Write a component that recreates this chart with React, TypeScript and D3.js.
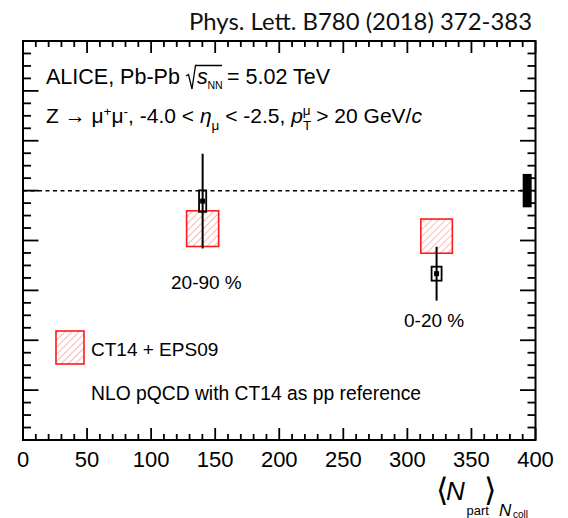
import React from "react";
import * as d3 from "d3";

// ---- data ----
const centralityLabels = ["20-90 %", "0-20 %"];
const npartValues = [140.2, 322.8];
const raaValues = [0.958, 0.667];
const statErrors = [0.19, 0.108];
const systErrors = [0.043, 0.028];
const systHalfWidths = [2.8, 3.9];
const modelLow = [0.776, 0.749];
const modelHigh = [0.919, 0.886];
const modelHalfWidth = [12.5, 12.3];
const globalUnc = { x0: 390, x1: 397, center: 1.0, err: 0.067 };
const xTickLabels = [0, 50, 100, 150, 200, 250, 300, 350, 400];
const xDomain = [0, 400];
const yDomain = [0, 1.6];

const W = 568;
const H = 518;
const FONT = "'Liberation Sans', Arial, Helvetica, sans-serif";

export default function App() {
  const x = d3.scaleLinear().domain(xDomain).range([23, 535.5]);
  const y = d3.scaleLinear().domain(yDomain).range([440, 41]);
  const [x0, x1] = x.range();
  const [yb, yt] = y.range();

  const xMinor = d3.range(0, 401, 10);
  const yMinor = d3.range(0, 1.6001, 0.05);

  return (
    <svg
      width={W}
      height={H}
      style={{ position: "absolute", left: 0, top: 0, background: "#fff" }}
      fontFamily={FONT}
    >
      <defs>
        <pattern
          id="hatch"
          patternUnits="userSpaceOnUse"
          width={5}
          height={5}
          patternTransform="rotate(45)"
        >
          <line x1={0} y1={0} x2={0} y2={5} stroke="#ff4040" strokeWidth={1} opacity={0.75} />
        </pattern>
      </defs>
      <rect x={0} y={0} width={W} height={H} fill="#fff" />

      {/* journal reference */}
      <text
        x={189}
        y={30}
        fontFamily="Lato, 'Open Sans', sans-serif"
        fontSize={24}
        fill="#111"
        textLength={343}
        lengthAdjust="spacingAndGlyphs"
      >
        Phys. Lett. B780 (2018) 372-383
      </text>

      {/* reference dashed line at 1 */}
      <line
        x1={x(0)}
        x2={x(400)}
        y1={y(1)}
        y2={y(1)}
        stroke="#000"
        strokeWidth={1.5}
        strokeDasharray="4,3.5"
      />

      {/* model boxes */}
      {npartValues.map((n, i) => (
        <rect
          key={"m" + i}
          x={x(n - modelHalfWidth[i])}
          y={y(modelHigh[i])}
          width={x(n + modelHalfWidth[i]) - x(n - modelHalfWidth[i])}
          height={y(modelLow[i]) - y(modelHigh[i])}
          fill="url(#hatch)"
          stroke="#ff1a1a"
          strokeWidth={1.6}
        />
      ))}

      {/* data points */}
      {npartValues.map((n, i) => (
        <g key={"d" + i}>
          <line
            x1={x(n)}
            x2={x(n)}
            y1={y(raaValues[i] + statErrors[i])}
            y2={y(raaValues[i] - statErrors[i])}
            stroke="#000"
            strokeWidth={2}
          />
          <rect
            x={x(n - systHalfWidths[i])}
            y={y(raaValues[i] + systErrors[i])}
            width={x(n + systHalfWidths[i]) - x(n - systHalfWidths[i])}
            height={y(raaValues[i] - systErrors[i]) - y(raaValues[i] + systErrors[i])}
            fill="none"
            stroke="#000"
            strokeWidth={1.8}
          />
          <rect
            x={x(n) - 2.5}
            y={y(raaValues[i]) - 2.5}
            width={5}
            height={5}
            fill="#000"
          />
        </g>
      ))}

      {/* global uncertainty */}
      <rect
        x={x(globalUnc.x0)}
        y={y(globalUnc.center + globalUnc.err)}
        width={x(globalUnc.x1) - x(globalUnc.x0)}
        height={y(globalUnc.center - globalUnc.err) - y(globalUnc.center + globalUnc.err)}
        fill="#000"
      />

      {/* frame and ticks */}
      <rect x={x0} y={yt} width={x1 - x0} height={yb - yt} fill="none" stroke="#000" strokeWidth={2} />
      {xMinor.map((v) => {
        const major = v % 50 === 0;
        const len = major ? 12 : 6;
        return (
          <g key={"xt" + v}>
            <line x1={x(v)} x2={x(v)} y1={yb} y2={yb - len} stroke="#000" strokeWidth={1.8} />
            <line x1={x(v)} x2={x(v)} y1={yt} y2={yt + len} stroke="#000" strokeWidth={1.8} />
          </g>
        );
      })}
      {yMinor.map((v, i) => {
        const major = i % 4 === 0;
        const len = major ? 15.5 : 8;
        return (
          <g key={"yt" + i}>
            <line x1={x0} x2={x0 + len} y1={y(v)} y2={y(v)} stroke="#000" strokeWidth={1.8} />
            <line x1={x1} x2={x1 - len} y1={y(v)} y2={y(v)} stroke="#000" strokeWidth={1.8} />
          </g>
        );
      })}

      {/* x tick labels */}
      {xTickLabels.map((v) => (
        <text key={"xl" + v} x={x(v)} y={467} fontSize={22} textAnchor="middle" fill="#000">
          {v}
        </text>
      ))}

      {/* axis title */}
      <g fill="#000">
        <text x={436} y={501} fontSize={32} fontFamily="'DejaVu Sans', sans-serif">⟨</text>
        <text x={446} y={500} fontSize={26} fontStyle="italic">N</text>
        <text x={466.5} y={515} fontSize={13}>part</text>
        <text x={484} y={501} fontSize={32} fontFamily="'DejaVu Sans', sans-serif">⟩</text>
        <text x={499} y={516} fontSize={17} fontStyle="italic">N</text>
        <text x={513} y={518} fontSize={10}>coll</text>
      </g>

      {/* ALICE label */}
      <g fill="#000" fontSize={21.5}>
        <text x={46} y={84}>ALICE, Pb-Pb</text>
        <path d="M186,76 L188.5,74.5 L192,89 L195.5,65.5 L222,65.5" fill="none" stroke="#000" strokeWidth={1.3} />
        <text x={197} y={84} fontStyle="italic">s</text>
        <text x={207.5} y={89} fontSize={10.5}>NN</text>
        <text x={227} y={84}>= 5.02 TeV</text>
      </g>
      <text x={46} y={123} fontSize={21} fill="#000">
        Z → μ
        <tspan dy={-7.5} fontSize={13.5}>+</tspan>
        <tspan dy={7.5}>μ</tspan>
        <tspan dy={-7.5} fontSize={13.5}>-</tspan>
        <tspan dy={7.5}>, -4.0 {"<"} </tspan>
        <tspan fontStyle="italic">η</tspan>
        <tspan dy={6.5} fontSize={13.5}>μ</tspan>
        <tspan dy={-6.5}> {"<"} -2.5, </tspan>
        <tspan fontStyle="italic">p</tspan>
        <tspan dy={6.5} fontSize={13.5}>T</tspan>
        <tspan dx={-8.5} dy={-15} fontSize={13.5}>μ</tspan>
        <tspan dy={8.5}> {">"} 20 GeV/</tspan>
        <tspan fontStyle="italic">c</tspan>
      </text>

      {/* centrality labels */}
      <text x={171} y={289} fontSize={19} fill="#000">{centralityLabels[0]}</text>
      <text x={404} y={327} fontSize={19} fill="#000">{centralityLabels[1]}</text>

      {/* legend */}
      <rect x={56} y={331} width={28} height={33} fill="url(#hatch)" stroke="#ff1a1a" strokeWidth={1.6} />
      <text x={91} y={356} fontSize={19} fill="#000">CT14 + EPS09</text>
      <text x={91} y={400} fontSize={19.3} fill="#000">NLO pQCD with CT14 as pp reference</text>

      {/* cut-off footer remnant */}
      <text x={15} y={527} fontSize={13} fill="#bbb">575</text>
    </svg>
  );
}
